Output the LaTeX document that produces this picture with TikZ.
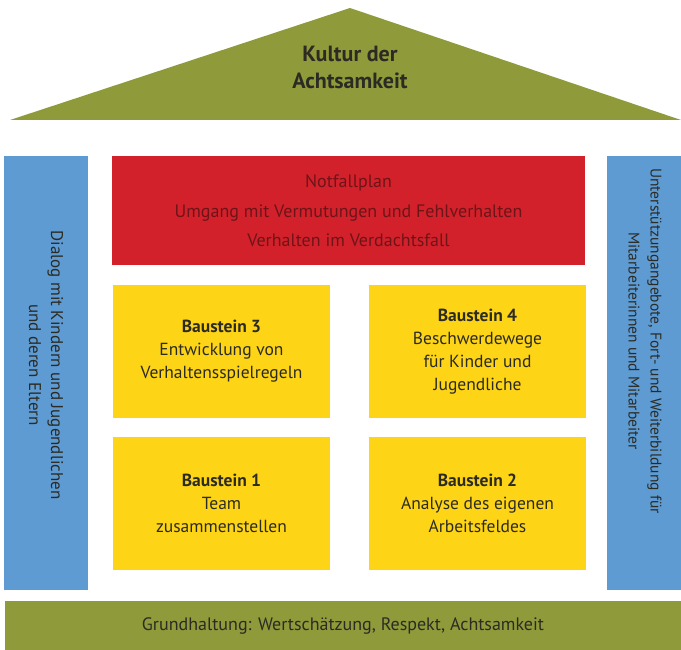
\documentclass[tikz,border=0pt]{standalone}
\usepackage{fontspec}
\setmainfont{PT Sans}
\definecolor{dachgruen}{HTML}{8F9B3A}
\definecolor{saeulenblau}{HTML}{5E9BD3}
\definecolor{notrot}{HTML}{D3212B}
\definecolor{bausteingelb}{HTML}{FDD416}
\definecolor{schrift}{HTML}{2B2B24}
\definecolor{rotschrift}{HTML}{6E1418}
\tikzset{
  baustein/.style={fill=bausteingelb, minimum width=217pt, minimum height=133pt,
    align=center, text=schrift, font=\fontsize{17.5}{23}\selectfont},
  saeule/.style={fill=saeulenblau, minimum width=434pt, rotate=-90},
  saeulentext/.style={rotate=-90, align=center, text=schrift},
}
\begin{document}
\begin{tikzpicture}[x=1pt,y=-1pt]
	\useasboundingbox (0,0) rectangle (681,650);
	% Dach
	\fill[dachgruen] (10,120) -- (350,8) -- (681,120) -- cycle;
	\node[text=schrift, align=center, font=\bfseries\fontsize{22}{27}\selectfont] (dach) at (350,67) {Kultur der\\Achtsamkeit};
	% Saeulen
	\node[saeule, minimum height=84pt] (links) at (46,373) {};
	\node[saeule, minimum height=76pt] (rechts) at (645,373) {};
	\node[saeulentext, font=\fontsize{17}{22}\selectfont] (linkstext) at ([yshift=8pt]links.center) {Dialog mit Kindern und Jugendlichen\\und deren Eltern};
	\node[saeulentext, font=\fontsize{15.5}{22}\selectfont] (rechtstext) at ([yshift=32pt]rechts.center) {Unterstützungangebote, Fort- und Weiterbildung für\\Mitarbeiterinnen und Mitarbeiter};
	% Notfallplan
	\node[fill=notrot, minimum width=473pt, minimum height=109pt, align=center, text=rotschrift,
		font=\fontsize{18}{29.5}\selectfont] (notfall) at (348.5,211) {Notfallplan\\Umgang mit Vermutungen und Fehlverhalten\\Verhalten im Verdachtsfall};
	% Bausteine
	\node[baustein] (b3) at (221.5,351.5) {\textbf{Baustein 3}\\Entwicklung von\\Verhaltensspielregeln};
	\node[baustein] (b4) at (477.5,351.5) {\textbf{Baustein 4}\\Beschwerdewege\\für Kinder und\\Jugendliche};
	\node[baustein] (b1) at (221.5,503.5) {\textbf{Baustein 1}\\Team\\zusammenstellen};
	\node[baustein] (b2) at (477.5,503.5) {\textbf{Baustein 2}\\Analyse des eigenen\\Arbeitsfeldes};
	% Fundament
	\node[fill=dachgruen, minimum width=676pt, minimum height=50pt, text=schrift,
		font=\fontsize{18}{22}\selectfont] (grund) at (343,626) {Grundhaltung: Wertschätzung, Respekt, Achtsamkeit};
\end{tikzpicture}
\end{document}
